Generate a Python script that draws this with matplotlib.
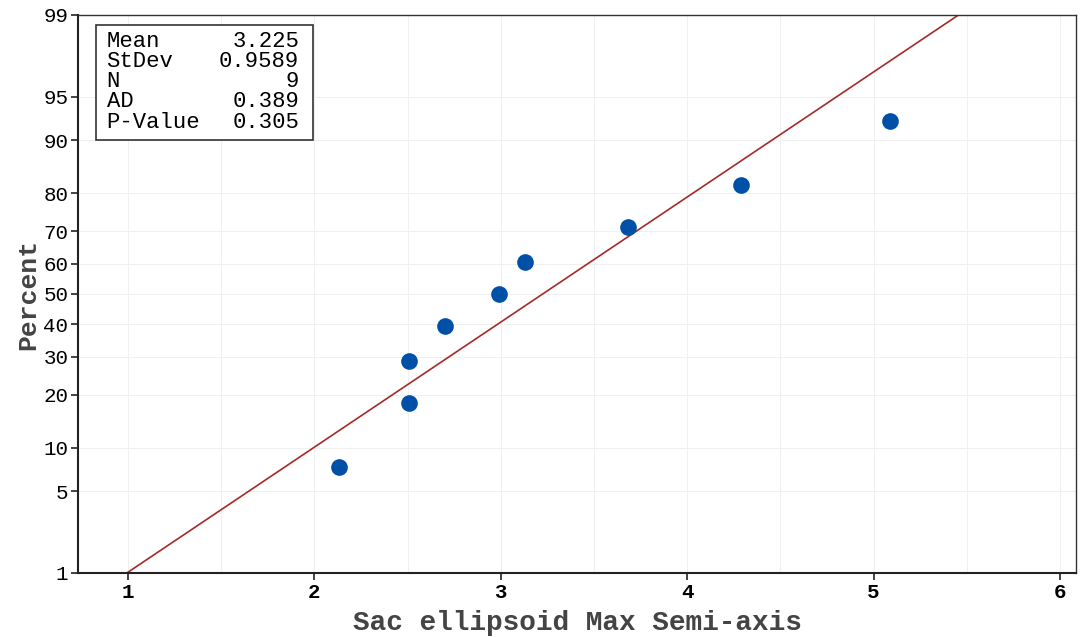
import matplotlib
matplotlib.use("Agg")
import matplotlib.pyplot as plt
from matplotlib.patches import Rectangle
import numpy as np
from statistics import NormalDist

# sample values and summary stats
values = [2.13, 2.51, 2.51, 2.70, 2.99, 3.13, 3.68, 4.29, 5.09]
mean = 3.225
stdev = 0.9589
stats_labels = ["Mean", "StDev", "N", "AD", "P-Value"]
stats_values = ["3.225", "0.9589", "9", "0.389", "0.305"]
pct_ticks = [1, 5, 10, 20, 30, 40, 50, 60, 70, 80, 90, 95, 99]
x_ticks = [1, 2, 3, 4, 5, 6]

nd = NormalDist()
n = len(values)
# median ranks (Benard)
ranks = [(i + 1 - 0.3) / (n + 0.4) for i in range(n)]
z_pts = [nd.inv_cdf(p) for p in ranks]

plt.rcParams['font.family'] = "Liberation Mono"

fig = plt.figure(figsize=(10.8, 6.37), dpi=100)
ax = fig.add_axes([0.0722, 0.1005, 0.9241, 0.876])

z_lo = nd.inv_cdf(0.01)
z_hi = nd.inv_cdf(0.99)

# grid
for gx in np.arange(1, 6.01, 0.5):
    ax.axvline(gx, color="#f0f0f0", lw=0.8, zorder=0)
for p in pct_ticks:
    ax.axhline(nd.inv_cdf(p / 100), color="#f0f0f0", lw=0.8, zorder=0)

# fitted line
zl = np.array([z_lo, z_hi])
ax.plot(mean + stdev * zl, zl, color="#a52a2a", lw=1.2, zorder=2)

# points
ax.plot(sorted(values), z_pts, 'o', color="#0050a8", ms=12, mec="none", zorder=3)

ax.set_xlim(0.732, 6.086)
ax.set_ylim(z_lo, z_hi)

ax.set_yticks([nd.inv_cdf(p / 100) for p in pct_ticks])
ax.set_yticklabels([str(p) for p in pct_ticks], fontsize=15)
ax.set_xticks(x_ticks)
ax.set_xticklabels([str(x) for x in x_ticks], fontsize=15, fontweight="bold")
ax.tick_params(direction="out", length=5, width=1.2, color="#222222", pad=2)

for s in ["left", "bottom"]:
    ax.spines[s].set_linewidth(1.5)
    ax.spines[s].set_color("#222222")
for s in ["top", "right"]:
    ax.spines[s].set_linewidth(1.0)
    ax.spines[s].set_color("#333333")

ax.set_xlabel("Sac ellipsoid Max Semi-axis", fontsize=20, fontweight="bold", color="#444444", labelpad=6)
ax.set_ylabel("Percent", fontsize=19, fontweight="bold", color="#444444", labelpad=2)

# stats box, one row at a time
row_px = [42, 62, 82, 102, 123]
for lab, val, py in zip(stats_labels, stats_values, row_px):
    yf = 1 - (py - 15) / 558
    ax.text(0.0286, yf, lab, transform=ax.transAxes, va="center", ha="left",
            fontsize=16, zorder=5)
    ax.text(0.2215, yf, val, transform=ax.transAxes, va="center", ha="right",
            fontsize=16, zorder=5)
ax.add_patch(Rectangle((0.018, 0.776), 0.2175, 0.206, transform=ax.transAxes,
                       facecolor="white", edgecolor="#333333", lw=1.2, zorder=4))

fig.savefig("out.png", dpi=100)
